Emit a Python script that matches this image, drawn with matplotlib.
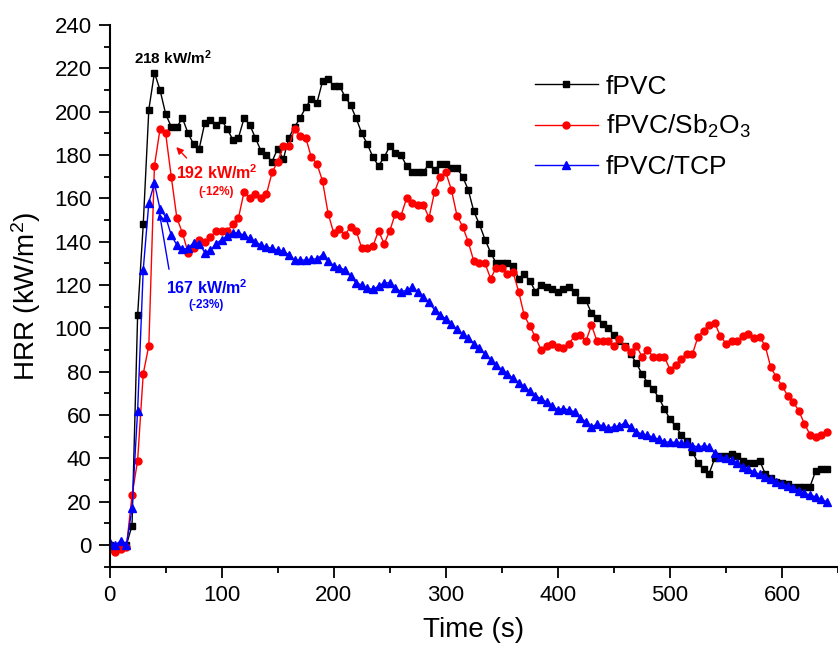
import numpy as np
import matplotlib
matplotlib.use("Agg")
import matplotlib.pyplot as plt

plt.rcParams['font.family'] = ['Liberation Sans', 'DejaVu Sans']
plt.rcParams['mathtext.default'] = 'regular'

# sampling every 5 s
time = np.arange(0, 645, 5)

fpvc = [0, -2, -1, 0, 9, 106, 148, 201, 218, 210,
        199, 193, 193, 197, 190, 185, 183, 195, 196, 194,
        196, 192, 187, 188, 197, 194, 188, 182, 180, 177,
        183, 178, 188, 193, 197, 202, 206, 204, 214, 215,
        212, 212, 207, 203, 197, 190, 185, 179, 175, 179,
        184, 181, 180, 175, 172, 172, 172, 176, 173, 176,
        176, 174, 174, 170, 164, 154, 148, 141, 135, 130,
        130, 130, 129, 123, 125, 122, 117, 120, 119, 118,
        117, 118, 119, 117, 113, 113, 107, 105, 102, 100,
        97, 94, 92, 88, 84, 79, 75, 72, 68, 63,
        58, 55, 51, 48, 43, 38, 35, 33, 40, 41,
        41, 42, 41, 39, 38, 38, 39, 33, 31, 29,
        28.5, 28, 27, 27, 27, 27, 34, 35, 35]

fpvc_sb2o3 = [-2, -3, -2, -1, 23, 39, 79, 92, 175, 192,
              190, 170, 151, 144, 135, 137, 141, 140, 142, 145,
              145, 145, 148, 151, 163, 160, 162, 160, 162, 172,
              177, 184, 184, 192, 189, 188, 179, 176, 168, 153,
              144, 146, 143, 147, 145, 137, 137, 138, 145, 139,
              145, 153, 152, 160, 158, 157, 157, 151, 163, 170,
              172, 164, 152, 147, 140, 131, 130, 130, 123, 128,
              128, 125, 126, 117, 106, 101, 96, 90, 92, 93,
              91.5, 91, 93, 96.5, 97, 94, 101.5, 94, 94, 94,
              92, 95, 91.5, 89, 92, 87, 90, 87, 87, 87,
              81, 83, 86, 88, 88, 96, 99, 101.5, 102.5, 96.5,
              93, 94, 94, 96.5, 97.5, 95.5, 96, 92, 82, 77.5,
              73.5, 69, 66, 62, 56, 51, 50, 51, 52]

fpvc_tcp = [1, 0, 2, 0, 17, 62, 127, 158, 167, 155,
            151.5, 143, 138.5, 136.5, 137, 139.5, 139, 135, 136, 139,
            141, 142.5, 144, 144, 143, 141.5, 140, 138.5, 137.5, 137,
            136, 135.5, 134, 131.5, 131.5, 131.5, 132, 132, 134, 131,
            129, 128, 127, 124, 121, 120, 118.5, 118, 119.5, 121,
            121, 118.5, 117, 117.5, 119, 117, 114.5, 112, 108.5, 106,
            104.5, 102, 99.5, 97.5, 95.5, 93, 91, 88, 85.5, 83,
            81, 79, 77, 75, 73, 71, 69, 67.5, 66, 64,
            62.5, 63, 62.3, 61.5, 58.5, 57, 54.6, 55.8, 55, 54,
            54.6, 55, 56.5, 54.6, 52.3, 51.2, 50.8, 49.7, 48.8, 47.7,
            47.4, 47.4, 47.2, 47, 45.7, 45.4, 45.7, 45.4, 42.3, 40.8,
            40, 39.2, 37.7, 36.2, 35, 33.8, 32.6, 31.5, 30.3, 29.2,
            28.1, 27.2, 26.2, 25.1, 24, 23, 22.3, 21.1, 20]

labels = ['fPVC', 'fPVC/Sb$_2$O$_3$', 'fPVC/TCP']

fig = plt.figure(figsize=(8.38, 6.48), dpi=100)
ax = fig.add_axes([0.1308, 0.1255, 0.8692, 0.8359])

ax.plot(time, fpvc, '-s', color='black', lw=1.0, ms=5, label=labels[0])
ax.plot(time, fpvc_sb2o3, '-o', color='red', lw=1.0, ms=5, label=labels[1])
ax.plot(time, fpvc_tcp, '-^', color='blue', lw=1.0, ms=5.5, label=labels[2])

ax.set_xlim(0, 644)
ax.set_ylim(-10, 240)
ax.set_xticks(np.arange(0, 700, 100))
ax.set_xticks(np.arange(50, 700, 100), minor=True)
ax.set_yticks(np.arange(0, 260, 20))
ax.set_yticks(np.arange(-10, 250, 20), minor=True)
ax.tick_params(which='major', direction='out', length=8, width=1.3,
               labelsize=16, pad=5)
ax.tick_params(which='minor', direction='out', length=4.5, width=1.3)
for side in ['top', 'right']:
    ax.spines[side].set_visible(False)
for side in ['left', 'bottom']:
    ax.spines[side].set_linewidth(1.5)

ax.set_xlabel('Time (s)', fontsize=20, labelpad=8)
ax.set_ylabel('HRR (kW/m$^2$)', fontsize=20, labelpad=8)

# peak annotations
ax.text(57, 225, '218 kW/m$^2$', color='black', fontsize=11,
        fontweight='bold', ha='center', va='center')
ax.text(96, 172, '192 kW/m$^2$', color='red', fontsize=11.5,
        fontweight='bold', ha='center', va='center')
ax.text(95, 163, '(-12%)', color='red', fontsize=8.5,
        fontweight='bold', ha='center', va='center')
ax.annotate('', xy=(57.8, 184.6), xytext=(70.4, 177.7),
            arrowprops=dict(arrowstyle='-|>', color='red', lw=1,
                            mutation_scale=10))
ax.text(86.5, 119, '167 kW/m$^2$', color='blue', fontsize=11.5,
        fontweight='bold', ha='center', va='center')
ax.text(86, 111, '(-23%)', color='blue', fontsize=8.5,
        fontweight='bold', ha='center', va='center')
ax.annotate('', xy=(44, 154.6), xytext=(53.4, 126),
            arrowprops=dict(arrowstyle='-|>', color='blue', lw=1,
                            mutation_scale=10))

ax.legend(loc='upper left', bbox_to_anchor=(0.638, 0.885),
          bbox_transform=fig.transFigure, frameon=False, fontsize=19,
          numpoints=1, handlelength=2.4, handletextpad=0.3,
          labelspacing=0.55, borderpad=0, borderaxespad=0)

fig.savefig('out.png', dpi=100)
